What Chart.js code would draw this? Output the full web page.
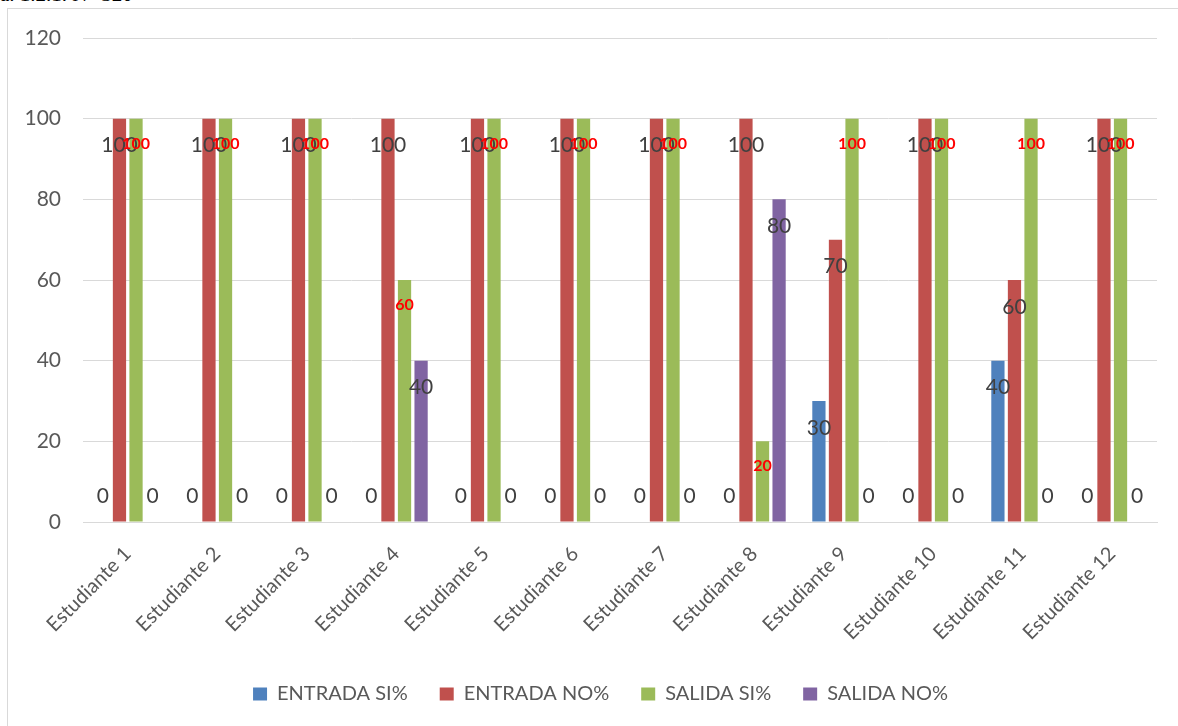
<!DOCTYPE html>
<html>
<head>
<meta charset="utf-8">
<script src="https://cdn.jsdelivr.net/npm/chart.js@4/dist/chart.umd.min.js"></script>
<style>
    html, body { margin: 0; padding: 0; background: #fff; overflow: hidden; }
    .caption {
        position: absolute; left: 0; top: -18px;
        font-family: 'Liberation Serif', serif; font-size: 21px; color: #000;
    }
    .box {
        position: absolute; left: 7px; top: 8px; width: 1171px; height: 718px;
        border-left: 1px solid #d9d9d9; border-top: 1px solid #d9d9d9;
        background: #fff;
    }
</style>
</head>
<body>
<div class="caption">a. 1.2.1. N° 320</div>
<div class="box">
    <canvas id="chart" width="1170" height="717"></canvas>
</div>
<script>
const categories = ['Estudiante 1', 'Estudiante 2', 'Estudiante 3', 'Estudiante 4', 'Estudiante 5', 'Estudiante 6',
    'Estudiante 7', 'Estudiante 8', 'Estudiante 9', 'Estudiante 10', 'Estudiante 11', 'Estudiante 12'];
const entradaSi = [0, 0, 0, 0, 0, 0, 0, 0, 30, 0, 40, 0];
const entradaNo = [100, 100, 100, 100, 100, 100, 100, 100, 70, 100, 60, 100];
const salidaSi = [100, 100, 100, 60, 100, 100, 100, 20, 100, 100, 100, 100];
const salidaNo = [0, 0, 0, 40, 0, 0, 0, 80, 0, 0, 0, 0];
const yTicks = [0, 20, 40, 60, 80, 100, 120];

const font = 'Lato, "Open Sans", sans-serif';

// value labels drawn like Excel "inside end"
const valueLabels = {
    id: 'valueLabels',
    afterLayout(chart) {
        // legend sits a bit right of the canvas centre in the original
        chart.legend.left = 36;
    },
    afterDatasetsDraw(chart) {
        const ctx = chart.ctx;
        const base = chart.scales.y.getPixelForValue(0);
        chart.data.datasets.forEach((ds, i) => {
            const meta = chart.getDatasetMeta(i);
            const red = ds.label === 'SALIDA SI%';
            ctx.save();
            ctx.font = red ? `bold 16px ${font}` : `21px ${font}`;
            ctx.fillStyle = red ? '#ff0000' : '#404040';
            ctx.textAlign = 'center';
            ctx.textBaseline = 'middle';
            meta.data.forEach((bar, j) => {
                const v = ds.data[j];
                const y = v > 0 ? bar.y + (red ? 25 : 27) : base - 26;
                ctx.fillText(String(v), bar.x, y);
            });
            ctx.restore();
        });
    }
};

new Chart(document.getElementById('chart'), {
    type: 'bar',
    data: {
        labels: categories,
        datasets: [
            { label: 'ENTRADA SI%', data: entradaSi, backgroundColor: '#4f81bd' },
            { label: 'ENTRADA NO%', data: entradaNo, backgroundColor: '#c0504d' },
            { label: 'SALIDA SI%', data: salidaSi, backgroundColor: '#9bbb59' },
            { label: 'SALIDA NO%', data: salidaNo, backgroundColor: '#8064a2' }
        ]
    },
    options: {
        responsive: false,
        animation: false,
        datasets: { bar: { barPercentage: 0.8, categoryPercentage: 0.74 } },
        layout: { padding: { top: 29, right: 21, left: 0, bottom: 12 } },
        scales: {
            x: {
                grid: { display: false },
                border: { color: '#d9d9d9' },
                ticks: {
                    color: '#595959', font: { family: font, size: 20 },
                    minRotation: 45, maxRotation: 45, padding: 12
                },
                afterFit: (scale) => { scale.height = 130; }
            },
            y: {
                min: 0, max: 120,
                afterBuildTicks: (scale) => { scale.ticks = yTicks.map(v => ({ value: v })); },
                grid: { color: '#d9d9d9', drawTicks: false },
                border: { display: false },
                ticks: { color: '#595959', font: { family: font, size: 21 }, padding: 22 },
                afterFit: (scale) => {
                    scale.width = 75;
                    scale.paddingTop = 0;
                    scale.paddingBottom = 0;
                }
            }
        },
        plugins: {
            legend: {
                position: 'bottom',
                labels: {
                    color: '#595959', font: { family: font, size: 20 },
                    boxWidth: 14, boxHeight: 13, padding: 32
                }
            },
            tooltip: { enabled: false }
        }
    },
    plugins: [valueLabels]
});
</script>
</body>
</html>
